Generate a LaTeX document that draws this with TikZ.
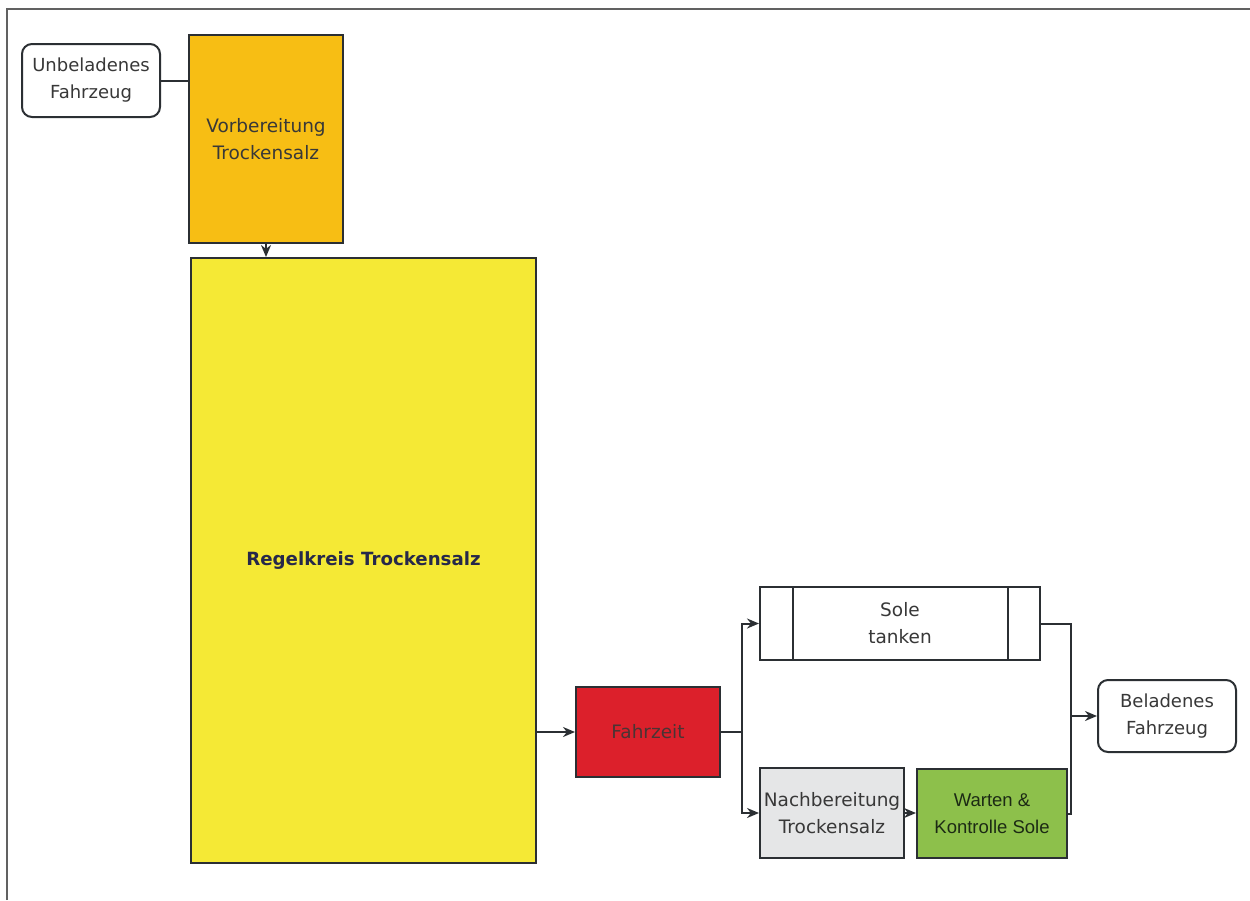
\documentclass[tikz,border=0pt]{standalone}
\usepackage{fontspec}
\setmainfont{DejaVu Sans}
\newfontfamily\arialfont{Liberation Sans}
\usetikzlibrary{arrows.meta,calc}
\definecolor{edge}{HTML}{2B2F33}
\definecolor{txt}{HTML}{383838}
\definecolor{orangefill}{HTML}{F7BE14}
\definecolor{yellowfill}{HTML}{F5E935}
\definecolor{redfill}{HTML}{DC202B}
\definecolor{greyfill}{HTML}{E5E6E7}
\definecolor{greenfill}{HTML}{8DC04B}
\definecolor{navytext}{HTML}{26284A}
\definecolor{darktext}{HTML}{4A3434}
\definecolor{greentext}{HTML}{1C2A14}
\begin{document}
\begin{tikzpicture}[x=1pt,y=-1pt,
  box/.style={draw=edge,line width=2pt,align=center,text=txt,
    font=\fontsize{18.5}{27}\selectfont,inner sep=0pt},
  terminal/.style={box,rounded corners=10pt,fill=white,font=\fontsize{18}{27}\selectfont},
  flow/.style={draw=edge,line width=2pt},
  arr/.style={flow,-{Stealth[length=12pt,width=10pt]}}]
\useasboundingbox (0,0) rectangle (1250,900);
% page frame (top and left edges only)
\draw[line width=2pt,draw=black!62] (7,900) -- (7,9) -- (1250,9);

\node[terminal,minimum width=138pt,minimum height=73pt] (unb) at (91,80.5) {Unbeladenes\\Fahrzeug};
\node[box,fill=orangefill,minimum width=154pt,minimum height=208pt] (vor) at (266,139) {Vorbereitung\\Trockensalz};
\node[box,fill=yellowfill,minimum width=345pt,minimum height=605pt,text=navytext,
  font=\fontsize{18.2}{27}\selectfont\bfseries] (reg) at (363.5,560.5) {Regelkreis Trockensalz};
\node[box,fill=redfill,minimum width=144pt,minimum height=90pt,text=darktext] (fahr) at (648,732) {Fahrzeit};
\node[box,fill=white,minimum width=280pt,minimum height=73pt] (sole) at (900,623.5) {Sole\\tanken};
\draw[flow] ($(sole.north west)+(34,0)$) -- ($(sole.south west)+(34,0)$);
\draw[flow] ($(sole.north east)+(-33,0)$) -- ($(sole.south east)+(-33,0)$);
\node[box,fill=greyfill,minimum width=144pt,minimum height=90pt] (nach) at (832,813) {Nachbereitung\\Trockensalz};
\node[box,fill=greenfill,minimum width=150pt,minimum height=89pt,text=greentext,
  font=\arialfont\fontsize{18.5}{27}\selectfont] (wart) at (992,813.5) {Warten \&\\Kontrolle Sole};
\node[terminal,minimum width=138pt,minimum height=72pt] (bel) at (1167,716) {Beladenes\\Fahrzeug};

% connectors
\draw[flow] (unb.east) -- (unb.east -| vor.west);
\draw[arr] (vor.south) -- (vor.south |- reg.north);
\draw[arr] (reg.east |- fahr.west) -- (fahr.west);
\coordinate (split) at ($(fahr.east)+(21,0)$);
\draw[flow] (fahr.east) -- (split);
\draw[arr] (split) |- (sole.west);
\draw[arr] (split) |- (nach.west);
\draw[arr] (nach.east) -- (nach.east -| wart.west);
\coordinate (join) at (1071,716);
\draw[flow] (sole.east) -| (join) |- (wart.east);
\draw[arr] (join) -- (bel.west);
\end{tikzpicture}
\end{document}
